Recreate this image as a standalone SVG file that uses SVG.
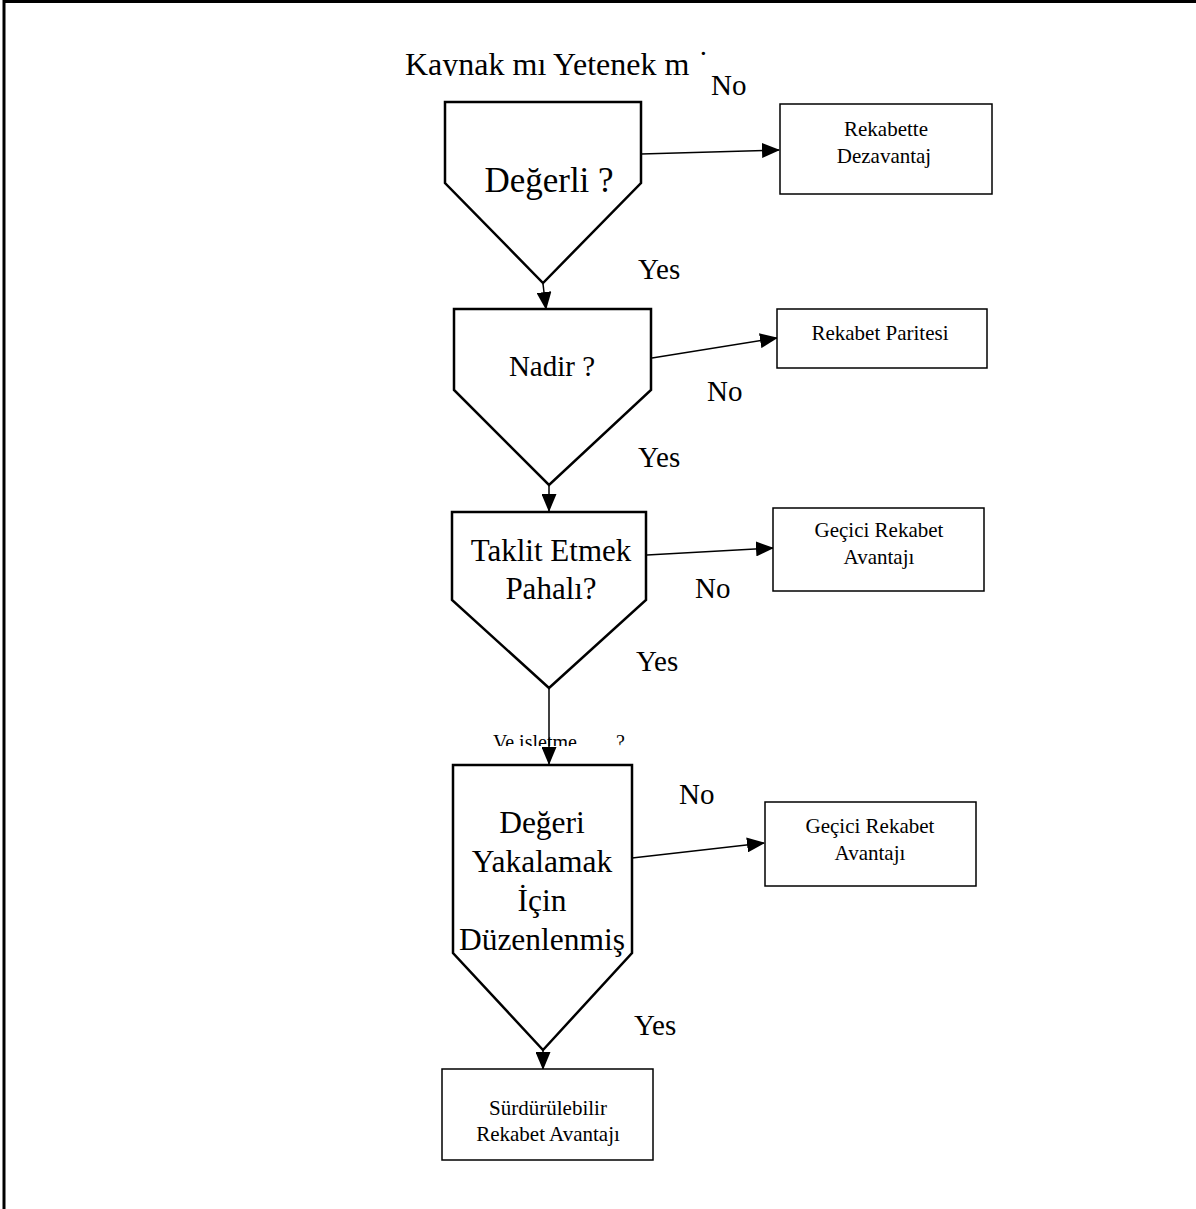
<svg xmlns="http://www.w3.org/2000/svg" width="1196" height="1209" viewBox="0 0 1196 1209">
<style>
text{font-family:"Liberation Serif","Times New Roman",serif;fill:#000}
.dec{fill:#fff;stroke:#000;stroke-width:2.5;stroke-linejoin:miter}
.box{fill:#fff;stroke:#000;stroke-width:1.5}
.con{stroke:#000;stroke-width:1.5;fill:none;marker-end:url(#ah)}
.lbl{font-size:29px}
.bt{font-size:21px;text-anchor:middle}
.dt{text-anchor:middle}
</style>
<defs>
<marker id="ah" markerWidth="18" markerHeight="15" refX="17" refY="7.5" orient="auto" markerUnits="userSpaceOnUse">
<path d="M0,0 L18,7.5 L0,15 Z" fill="#000"/>
</marker>
<clipPath id="tclip"><rect x="0" y="0" width="1196" height="76"/></clipPath>
<clipPath id="vclip"><rect x="0" y="700" width="1196" height="46"/></clipPath>
</defs>
<rect x="0" y="0" width="1196" height="1209" fill="#fff"/>
<path d="M4,1209 V1.5 H1196" fill="none" stroke="#000" stroke-width="3"/>
<g id="title">
<text x="405" y="75" font-size="32" clip-path="url(#tclip)">Kaynak mı Yetenek m</text>
<text x="698" y="73" font-size="32" clip-path="url(#tclip)">˙</text>
</g>
<g id="connectors">
<line class="con" x1="641" y1="154" x2="779" y2="150"/>
<line class="con" x1="543" y1="284" x2="546" y2="309"/>
<line class="con" x1="652" y1="358" x2="777" y2="338"/>
<line class="con" x1="549" y1="486" x2="549" y2="511"/>
<line class="con" x1="647" y1="555" x2="773" y2="548"/>
<line class="con" x1="549" y1="689" x2="549" y2="764"/>
<line class="con" x1="632" y1="858" x2="764" y2="843"/>
<line class="con" x1="543" y1="1050" x2="543" y2="1069"/>
</g>
<g id="labels">
<text class="lbl" x="711" y="95">No</text>
<text class="lbl" x="638" y="279">Yes</text>
<text class="lbl" x="707" y="401">No</text>
<text class="lbl" x="638" y="467">Yes</text>
<text class="lbl" x="695" y="598">No</text>
<text class="lbl" x="636" y="671">Yes</text>
<text class="lbl" x="679" y="804">No</text>
<text class="lbl" x="634" y="1035">Yes</text>
<g clip-path="url(#vclip)">
<text x="493" y="749" font-size="20">Ve isletme</text>
<text x="616" y="749" font-size="20">?</text>
</g>
</g>
<g id="n1">
<path class="dec" d="M445,102 H641 V183 L543,283 L445,183 Z"/>
<text class="dt" x="549" y="192" font-size="35">Değerli ?</text>
</g>
<g id="n2">
<rect class="box" x="780" y="104" width="212" height="90"/>
<text class="bt" x="886" y="136">Rekabette</text>
<text class="bt" x="884" y="163">Dezavantaj</text>
</g>
<g id="n3">
<path class="dec" d="M454,309 H651 V390 L549,485 L454,390 Z"/>
<text class="dt" x="552" y="376" font-size="29">Nadir ?</text>
</g>
<g id="n4">
<rect class="box" x="777" y="309" width="210" height="59"/>
<text class="bt" x="880" y="340">Rekabet Paritesi</text>
</g>
<g id="n5">
<path class="dec" d="M452,512 H646 V600 L549,688 L452,600 Z"/>
<text class="dt" x="551" y="561" font-size="31">Taklit Etmek</text>
<text class="dt" x="551" y="599" font-size="31">Pahalı?</text>
</g>
<g id="n6">
<rect class="box" x="773" y="508" width="211" height="83"/>
<text class="bt" x="879" y="537">Geçici Rekabet</text>
<text class="bt" x="879" y="564">Avantajı</text>
</g>
<g id="n7">
<path class="dec" d="M453,765 H632 V953 L543,1050 L453,953 Z"/>
<text class="dt" x="542" y="833" font-size="31.5">Değeri</text>
<text class="dt" x="542" y="872" font-size="31.5">Yakalamak</text>
<text class="dt" x="542" y="911" font-size="31.5">İçin</text>
<text class="dt" x="542" y="950" font-size="31.5">Düzenlenmiş</text>
</g>
<g id="n8">
<rect class="box" x="765" y="802" width="211" height="84"/>
<text class="bt" x="870" y="833">Geçici Rekabet</text>
<text class="bt" x="870" y="860">Avantajı</text>
</g>
<g id="n9">
<rect class="box" x="442" y="1069" width="211" height="91"/>
<text class="bt" x="548" y="1115">Sürdürülebilir</text>
<text class="bt" x="548" y="1141">Rekabet Avantajı</text>
</g>
</svg>
